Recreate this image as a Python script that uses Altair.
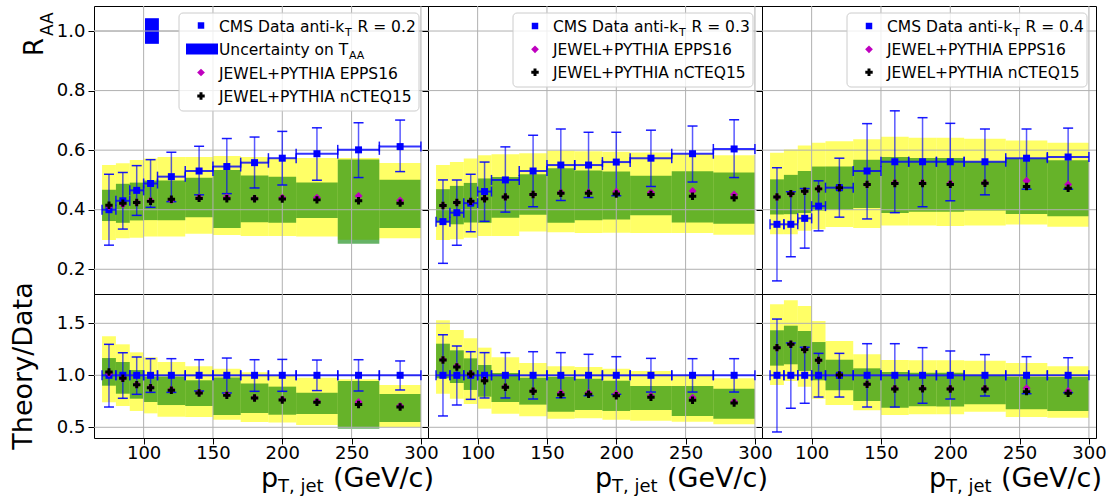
import altair as alt
import pandas as pd

# ---------------- data ----------------
pt_lo = [70, 80, 90, 100, 110, 130, 150, 170, 190, 210, 240, 270]
pt_hi = [80, 90, 100, 110, 130, 150, 170, 190, 210, 240, 270, 300]
pt_c = [75, 85, 95, 105, 120, 140, 160, 180, 200, 225, 255, 285]

# R = 0.2
r2_cms = [0.400, 0.430, 0.465, 0.488, 0.511, 0.530, 0.545, 0.558, 0.573, 0.588, 0.601, 0.612]
r2_cms_hi = [0.519, 0.525, 0.548, 0.568, 0.593, 0.613, 0.639, 0.644, 0.663, 0.675, 0.692, 0.701]
r2_cms_lo = [0.281, 0.335, 0.381, 0.408, 0.427, 0.450, 0.454, 0.473, 0.483, 0.499, 0.508, 0.528]
r2_epps = [0.412, 0.418, 0.424, 0.430, 0.433, 0.440, 0.442, 0.438, 0.440, 0.440, 0.446, 0.431]
r2_ncteq = [0.415, 0.422, 0.424, 0.428, 0.435, 0.438, 0.437, 0.437, 0.436, 0.433, 0.430, 0.422]
r2_yel_hi = [0.550, 0.556, 0.567, 0.572, 0.577, 0.577, 0.580, 0.577, 0.574, 0.574, 0.574, 0.557]
r2_yel_lo = [0.298, 0.304, 0.306, 0.310, 0.310, 0.319, 0.315, 0.312, 0.312, 0.310, 0.299, 0.304]
r2_grn_hi = [0.467, 0.487, 0.491, 0.498, 0.498, 0.507, 0.533, 0.515, 0.511, 0.491, 0.569, 0.501]
r2_grn_lo = [0.362, 0.356, 0.364, 0.365, 0.365, 0.375, 0.339, 0.358, 0.356, 0.372, 0.286, 0.339]
r2_rat_cms = [1.0, 1.0, 1.0, 1.0, 1.0, 1.0, 1.0, 1.0, 1.0, 1.0, 1.0, 1.0]
r2_rat_hi = [1.298, 1.217, 1.176, 1.160, 1.160, 1.150, 1.166, 1.150, 1.153, 1.147, 1.150, 1.138]
r2_rat_lo = [0.695, 0.779, 0.817, 0.836, 0.836, 0.849, 0.830, 0.846, 0.846, 0.853, 0.849, 0.859]
r2_rat_epps = [1.020, 0.970, 0.912, 0.882, 0.858, 0.832, 0.812, 0.785, 0.768, 0.748, 0.743, 0.705]
r2_rat_ncteq = [1.032, 0.971, 0.910, 0.881, 0.856, 0.830, 0.807, 0.782, 0.762, 0.740, 0.720, 0.695]
r2_rat_yel_hi = [1.375, 1.298, 1.221, 1.173, 1.128, 1.086, 1.064, 1.029, 1.000, 0.977, 0.961, 0.907]
r2_rat_yel_lo = [0.740, 0.705, 0.657, 0.634, 0.602, 0.600, 0.573, 0.551, 0.545, 0.522, 0.506, 0.503]
r2_rat_grn_hi = [1.166, 1.128, 1.051, 0.987, 0.987, 0.952, 0.980, 0.920, 0.891, 0.833, 0.945, 0.820]
r2_rat_grn_lo = [0.900, 0.823, 0.775, 0.743, 0.714, 0.705, 0.618, 0.637, 0.621, 0.628, 0.487, 0.551]

# R = 0.3
r3_cms = [0.360, 0.390, 0.422, 0.461, 0.500, 0.530, 0.550, 0.550, 0.560, 0.573, 0.588, 0.604]
r3_cms_hi = [0.500, 0.500, 0.519, 0.560, 0.611, 0.650, 0.671, 0.660, 0.660, 0.667, 0.681, 0.702]
r3_cms_lo = [0.220, 0.281, 0.326, 0.361, 0.392, 0.410, 0.431, 0.441, 0.447, 0.478, 0.493, 0.508]
r3_epps = [0.414, 0.424, 0.428, 0.438, 0.443, 0.451, 0.457, 0.458, 0.460, 0.458, 0.463, 0.451]
r3_ncteq = [0.414, 0.424, 0.428, 0.437, 0.443, 0.451, 0.455, 0.455, 0.453, 0.451, 0.445, 0.440]
r3_yel_hi = [0.550, 0.560, 0.572, 0.583, 0.586, 0.590, 0.598, 0.596, 0.595, 0.592, 0.588, 0.583]
r3_yel_lo = [0.298, 0.301, 0.306, 0.312, 0.312, 0.327, 0.324, 0.322, 0.323, 0.322, 0.322, 0.316]
r3_grn_hi = [0.469, 0.480, 0.490, 0.505, 0.510, 0.519, 0.539, 0.532, 0.528, 0.514, 0.529, 0.525]
r3_grn_lo = [0.357, 0.351, 0.357, 0.356, 0.373, 0.383, 0.356, 0.365, 0.367, 0.381, 0.357, 0.353]
r3_rat_cms = [1.0, 1.0, 1.0, 1.0, 1.0, 1.0, 1.0, 1.0, 1.0, 1.0, 1.0, 1.0]
r3_rat_hi = [1.390, 1.282, 1.227, 1.218, 1.218, 1.227, 1.218, 1.202, 1.179, 1.163, 1.160, 1.160]
r3_rat_lo = [0.609, 0.714, 0.769, 0.782, 0.782, 0.772, 0.784, 0.804, 0.817, 0.839, 0.839, 0.839]
r3_rat_epps = [1.150, 1.087, 1.016, 0.952, 0.888, 0.850, 0.830, 0.830, 0.820, 0.800, 0.783, 0.745]
r3_rat_ncteq = [1.147, 1.080, 1.013, 0.948, 0.885, 0.846, 0.814, 0.817, 0.804, 0.788, 0.760, 0.734]
r3_rat_yel_hi = [1.529, 1.435, 1.356, 1.266, 1.173, 1.118, 1.086, 1.080, 1.064, 1.042, 1.000, 0.971]
r3_rat_yel_lo = [0.823, 0.775, 0.724, 0.679, 0.631, 0.606, 0.583, 0.586, 0.573, 0.564, 0.554, 0.529]
r3_rat_grn_hi = [1.304, 1.240, 1.163, 1.099, 1.022, 0.977, 0.983, 0.968, 0.948, 0.897, 0.897, 0.871]
r3_rat_grn_lo = [0.971, 0.926, 0.859, 0.794, 0.743, 0.718, 0.650, 0.667, 0.657, 0.667, 0.609, 0.583]

# R = 0.4
r4_cms = [0.351, 0.351, 0.371, 0.412, 0.474, 0.530, 0.561, 0.561, 0.561, 0.561, 0.573, 0.577]
r4_cms_hi = [0.541, 0.460, 0.471, 0.497, 0.573, 0.689, 0.732, 0.709, 0.690, 0.671, 0.671, 0.674]
r4_cms_lo = [0.161, 0.242, 0.271, 0.329, 0.375, 0.369, 0.390, 0.410, 0.430, 0.450, 0.469, 0.469]
r4_epps = [0.443, 0.454, 0.462, 0.470, 0.474, 0.485, 0.490, 0.490, 0.488, 0.490, 0.497, 0.485]
r4_ncteq = [0.443, 0.454, 0.462, 0.470, 0.474, 0.485, 0.488, 0.488, 0.485, 0.489, 0.478, 0.472]
r4_yel_hi = [0.591, 0.602, 0.616, 0.625, 0.630, 0.637, 0.645, 0.642, 0.642, 0.638, 0.632, 0.625]
r4_yel_lo = [0.318, 0.318, 0.329, 0.334, 0.342, 0.339, 0.347, 0.347, 0.345, 0.347, 0.350, 0.343]
r4_grn_hi = [0.502, 0.517, 0.530, 0.545, 0.545, 0.568, 0.577, 0.574, 0.574, 0.561, 0.573, 0.566]
r4_grn_lo = [0.384, 0.385, 0.389, 0.397, 0.400, 0.406, 0.389, 0.393, 0.393, 0.397, 0.386, 0.378]
r4_rat_cms = [1.0, 1.0, 1.0, 1.0, 1.0, 1.0, 1.0, 1.0, 1.0, 1.0, 1.0, 1.0]
r4_rat_hi = [1.541, 1.310, 1.270, 1.211, 1.211, 1.304, 1.304, 1.266, 1.234, 1.199, 1.179, 1.169]
r4_rat_lo = [0.455, 0.682, 0.731, 0.791, 0.791, 0.695, 0.695, 0.731, 0.772, 0.801, 0.823, 0.833]
r4_rat_epps = [1.266, 1.298, 1.247, 1.144, 1.003, 0.915, 0.873, 0.873, 0.870, 0.873, 0.875, 0.850]
r4_rat_ncteq = [1.266, 1.298, 1.247, 1.144, 1.003, 0.913, 0.868, 0.870, 0.868, 0.868, 0.843, 0.827]
r4_rat_yel_hi = [1.683, 1.721, 1.666, 1.522, 1.330, 1.202, 1.147, 1.144, 1.144, 1.141, 1.118, 1.086]
r4_rat_yel_lo = [0.907, 0.945, 0.890, 0.775, 0.714, 0.663, 0.618, 0.625, 0.625, 0.650, 0.599, 0.592]
r4_rat_grn_hi = [1.433, 1.477, 1.426, 1.320, 1.150, 1.067, 1.032, 1.025, 1.025, 1.003, 0.987, 0.983]
r4_rat_grn_lo = [1.093, 1.106, 1.042, 0.952, 0.856, 0.753, 0.689, 0.702, 0.700, 0.721, 0.673, 0.657]

# T_AA normalisation uncertainty box (panel R = 0.2)
taa_x = [101, 111]
taa_y = [0.957, 1.043]

x_ticks = [100, 150, 200, 250, 300]
y_ticks_top = [0.2, 0.4, 0.6, 0.8, 1.0]
y_ticks_bot = [0.5, 1.0, 1.5]
radii = ["0.2", "0.3", "0.4"]

# ---------------- styling ----------------
FONT = "DejaVu Sans"
W = 334
H_TOP = 288
H_BOT = 144
XDOM = [64.2, 305.1]
YDOM_TOP = [0.117, 1.084]
YDOM_BOT = [0.397, 1.782]
BLUE = "#0000ff"
MAG = "#bf00bf"
GRID = "#b0b0b0"
LEG_FS = 15.5
TICK_FS = 18


def frame(cms, lo, hi, epps, ncteq, ylo, yhi, glo, ghi):
    return pd.DataFrame({
        "lo": pt_lo, "hi": pt_hi, "c": pt_c,
        "cms": cms, "cms_lo": lo, "cms_hi": hi,
        "epps": epps, "ncteq": ncteq,
        "yl": ylo, "yh": yhi, "gl": glo, "gh": ghi,
    })


def txt(s, x, y, size, align="left", baseline="alphabetic", angle=0):
    return alt.Chart(pd.DataFrame({"t": [s]})).mark_text(
        align=align, baseline=baseline, angle=angle, fontSize=size,
        font=FONT, color="black"
    ).encode(x=alt.value(x), y=alt.value(y), text="t:N")


def one():
    return pd.DataFrame({"k": [0]})


def legend(col, radius):
    layers = []
    n = 4 if col == 0 else 3
    box_bottom = 105 if n == 4 else 81
    layers.append(alt.Chart(one()).mark_rect(
        fill="white", fillOpacity=0.8, stroke="#cccccc", strokeWidth=1, cornerRadius=4
    ).encode(x=alt.value(85), x2=alt.value(325), y=alt.value(7), y2=alt.value(box_bottom)))
    if n == 4:
        marks_y = [19.5, 43, 66.5, 90]
        base_y = [25.5, 49, 72.5, 95.5]
    else:
        marks_y = [20, 43.3, 66.3]
        base_y = [25.7, 49, 72]
    mx = 107
    tx = 125
    # row 0: CMS data
    layers.append(alt.Chart(one()).mark_point(shape="square", filled=True, size=42, color=BLUE, opacity=1)
                  .encode(x=alt.value(mx), y=alt.value(marks_y[0])))
    layers.append(txt("CMS Data anti-k", tx, base_y[0], LEG_FS))
    layers.append(txt("T", tx + 126, base_y[0] + 4, 11))
    layers.append(txt("R = 0.%s" % radius[-1], tx + 138.5, base_y[0], LEG_FS))
    row = 1
    if n == 4:
        layers.append(alt.Chart(one()).mark_rect(color=BLUE).encode(
            x=alt.value(92), x2=alt.value(124), y=alt.value(marks_y[1] - 5.5), y2=alt.value(marks_y[1] + 5.5)))
        layers.append(txt("Uncertainty on T", tx, base_y[1], LEG_FS))
        layers.append(txt("AA", tx + 130, base_y[1] + 4, 11))
        row = 2
    layers.append(alt.Chart(one()).mark_point(shape="diamond", filled=True, size=60, color=MAG, opacity=1)
                  .encode(x=alt.value(mx), y=alt.value(marks_y[row])))
    layers.append(txt("JEWEL+PYTHIA EPPS16", tx, base_y[row], LEG_FS))
    layers.append(alt.Chart(one()).mark_point(shape="cross", filled=True, size=55, color="black", opacity=1)
                  .encode(x=alt.value(mx), y=alt.value(marks_y[row + 1])))
    layers.append(txt("JEWEL+PYTHIA nCTEQ15", tx, base_y[row + 1], LEG_FS))
    return layers


def panel(df, col, top, radius):
    ydom = YDOM_TOP if top else YDOM_BOT
    yticks = y_ticks_top if top else y_ticks_bot
    height = H_TOP if top else H_BOT
    xs = alt.Scale(domain=XDOM, nice=False, zero=False)
    ys = alt.Scale(domain=ydom, nice=False, zero=False)
    if top:
        xaxis = None
    else:
        xaxis = alt.Axis(values=x_ticks, format="d", title=None, grid=False, domain=False,
                         ticks=True, tickSize=6, tickColor="black", tickWidth=1,
                         labelFontSize=TICK_FS, labelFont=FONT, labelColor="black", labelPadding=0)
    yaxis = alt.Axis(values=yticks, format=".1f", title=None, grid=False, domain=False,
                     ticks=True, tickSize=6, tickColor="black", tickWidth=1,
                     labels=(col == 0), labelFontSize=TICK_FS, labelFont=FONT, labelColor="black",
                     labelPadding=3)

    def X(f):
        return alt.X(f, type="quantitative", scale=xs, axis=xaxis)

    def Y(f):
        return alt.Y(f, type="quantitative", scale=ys, axis=yaxis)

    base = alt.Chart(df)
    layers = [
        base.mark_rect(color="#ffff00", opacity=0.6).encode(x=X("lo"), x2="hi", y=Y("yl"), y2="yh"),
        base.mark_rect(color="#008000", opacity=0.6).encode(x=X("lo"), x2="hi", y=Y("gl"), y2="gh"),
        alt.Chart(pd.DataFrame({"v": x_ticks})).mark_rule(color=GRID, strokeWidth=1).encode(x=X("v")),
        alt.Chart(pd.DataFrame({"v": yticks})).mark_rule(color=GRID, strokeWidth=1).encode(y=Y("v")),
    ]
    if top and col == 0:
        layers.append(alt.Chart(pd.DataFrame({"x0": [taa_x[0]], "x1": [taa_x[1]],
                                              "y0": [taa_y[0]], "y1": [taa_y[1]]}))
                      .mark_rect(color=BLUE, opacity=1).encode(x=X("x0"), x2="x1", y=Y("y0"), y2="y1"))
        layers.append(alt.Chart(pd.DataFrame({"v": [1.0]})).mark_rule(color=GRID, strokeWidth=1)
                      .encode(y=Y("v")))
    layers += [
        base.mark_rule(color=BLUE, strokeWidth=1.5, opacity=0.65).encode(x=X("c"), y=Y("cms_lo"), y2="cms_hi"),
        base.mark_tick(orient="horizontal", size=10, thickness=1.5, color=BLUE, opacity=0.9).encode(x=X("c"), y=Y("cms_lo")),
        base.mark_tick(orient="horizontal", size=10, thickness=1.5, color=BLUE, opacity=0.9).encode(x=X("c"), y=Y("cms_hi")),
        base.mark_rule(color=BLUE, strokeWidth=2, opacity=0.8).encode(x=X("lo"), x2="hi", y=Y("cms")),
        base.mark_tick(orient="vertical", size=10, thickness=1.5, color=BLUE, opacity=0.9).encode(x=X("lo"), y=Y("cms")),
        base.mark_tick(orient="vertical", size=10, thickness=1.5, color=BLUE, opacity=0.9).encode(x=X("hi"), y=Y("cms")),
        base.mark_point(shape="square", filled=True, size=49, color=BLUE, opacity=1).encode(x=X("c"), y=Y("cms")),
        base.mark_point(shape="diamond", filled=True, size=64, color=MAG, opacity=1).encode(x=X("c"), y=Y("epps")),
        base.mark_point(shape="cross", filled=True, size=55, color="black", opacity=1).encode(x=X("c"), y=Y("ncteq")),
    ]
    if top:
        layers += legend(col, radius)
        if col == 0:
            layers.append(txt("R", -51, 50, 26, angle=270))
            layers.append(txt("AA", -41, 30, 17, angle=270))
    else:
        layers.append(txt("p", 167, 193, 27))
        layers.append(txt("T, jet", 184, 198, 18))
        layers.append(txt("(GeV/c)", W + 6, 193, 27, align="right"))
        if col == 0:
            layers.append(txt("Theory/Data", -62, 72, 27, align="center", angle=270))
    return alt.layer(*layers).properties(width=W, height=height)


tops = [
    frame(r2_cms, r2_cms_lo, r2_cms_hi, r2_epps, r2_ncteq, r2_yel_lo, r2_yel_hi, r2_grn_lo, r2_grn_hi),
    frame(r3_cms, r3_cms_lo, r3_cms_hi, r3_epps, r3_ncteq, r3_yel_lo, r3_yel_hi, r3_grn_lo, r3_grn_hi),
    frame(r4_cms, r4_cms_lo, r4_cms_hi, r4_epps, r4_ncteq, r4_yel_lo, r4_yel_hi, r4_grn_lo, r4_grn_hi),
]
bots = [
    frame(r2_rat_cms, r2_rat_lo, r2_rat_hi, r2_rat_epps, r2_rat_ncteq, r2_rat_yel_lo, r2_rat_yel_hi, r2_rat_grn_lo, r2_rat_grn_hi),
    frame(r3_rat_cms, r3_rat_lo, r3_rat_hi, r3_rat_epps, r3_rat_ncteq, r3_rat_yel_lo, r3_rat_yel_hi, r3_rat_grn_lo, r3_rat_grn_hi),
    frame(r4_rat_cms, r4_rat_lo, r4_rat_hi, r4_rat_epps, r4_rat_ncteq, r4_rat_yel_lo, r4_rat_yel_hi, r4_rat_grn_lo, r4_rat_grn_hi),
]

panels = [panel(tops[i], i, True, radii[i]) for i in range(3)] + \
         [panel(bots[i], i, False, radii[i]) for i in range(3)]

chart = alt.concat(*panels, columns=3, spacing=0, bounds="flush").properties(
    padding={"left": 9, "top": 5, "right": 5, "bottom": 5},
    background="white",
).configure_view(stroke="black", strokeWidth=1)

chart.save("out.html", embed_options={"renderer": "svg", "actions": False})
